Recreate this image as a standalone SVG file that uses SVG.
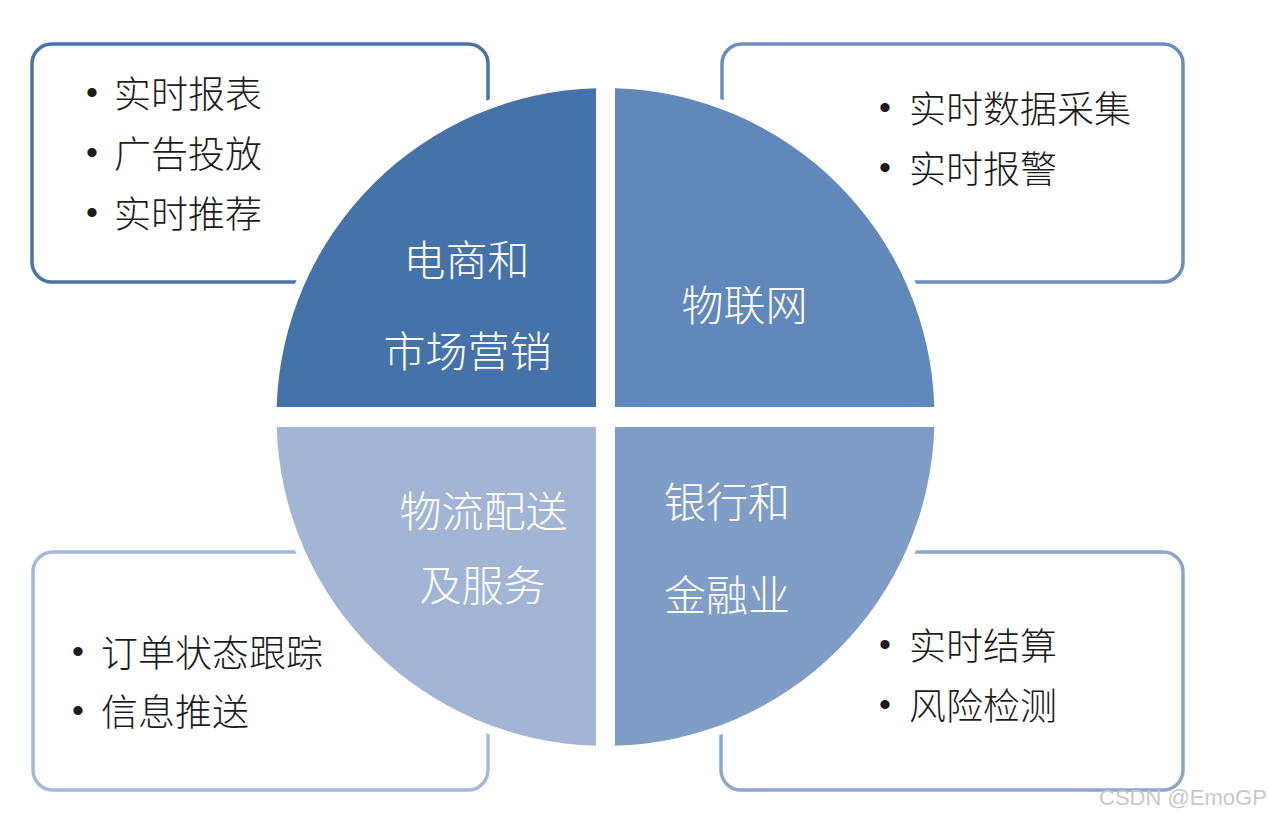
<svg xmlns="http://www.w3.org/2000/svg" width="1269" height="819" viewBox="0 0 1269 819">
  <style>
    .box { fill: #ffffff; stroke-width: 3.5; }
    .item { font-family: "Noto Sans CJK SC", "Liberation Sans", sans-serif; font-size: 37px; font-weight: 300; fill: #1c1c1c; }
    .bullet { font-family: "Liberation Sans", sans-serif; font-size: 34px; fill: #1c1c1c; text-anchor: middle; }
    .label { font-family: "Noto Sans CJK SC", "Liberation Sans", sans-serif; font-size: 42px; font-weight: 300; fill: #ffffff; text-anchor: middle; }
    .wm { font-family: "Liberation Sans", sans-serif; font-size: 22px; fill: #c9c9c9; }
  </style>
  <rect x="0" y="0" width="1269" height="819" fill="#ffffff"/>

  <!-- outer boxes -->
  <g id="box-ecommerce">
    <rect class="box" x="32" y="44" width="456" height="238" rx="20" ry="20" stroke="#4a74a9"/>
    <text class="bullet" x="92" y="104">•</text>
    <text class="item" x="114" y="108">实时报表</text>
    <text class="bullet" x="92" y="164">•</text>
    <text class="item" x="114" y="168">广告投放</text>
    <text class="bullet" x="92" y="224">•</text>
    <text class="item" x="114" y="228">实时推荐</text>
  </g>
  <g id="box-iot">
    <rect class="box" x="722" y="44" width="461" height="238" rx="20" ry="20" stroke="#6a8dbe"/>
    <text class="bullet" x="885" y="119">•</text>
    <text class="item" x="909" y="123">实时数据采集</text>
    <text class="bullet" x="885" y="179">•</text>
    <text class="item" x="909" y="183">实时报警</text>
  </g>
  <g id="box-logistics">
    <rect class="box" x="33" y="552" width="455" height="238" rx="20" ry="20" stroke="#a6b8d7"/>
    <text class="bullet" x="78" y="663">•</text>
    <text class="item" x="101" y="667">订单状态跟踪</text>
    <text class="bullet" x="78" y="722">•</text>
    <text class="item" x="101" y="726">信息推送</text>
  </g>
  <g id="box-finance">
    <rect class="box" x="721" y="552" width="462" height="238" rx="20" ry="20" stroke="#8ea6cd"/>
    <text class="bullet" x="885" y="656">•</text>
    <text class="item" x="909" y="660">实时结算</text>
    <text class="bullet" x="885" y="716">•</text>
    <text class="item" x="909" y="720">风险检测</text>
  </g>

  <!-- white ring separating the circle from the boxes -->
  <circle cx="605.5" cy="417" r="338" fill="#ffffff"/>

  <g id="quadrant-ecommerce">
    <path d="M596,407 L596,88.14 A329,329 0 0,0 276.65,407 Z" fill="#4672aa"/>
    <text class="label" x="466.5" y="276">电商和</text>
    <text class="label" x="467.5" y="367">市场营销</text>
  </g>
  <g id="quadrant-iot">
    <path d="M615,407 L615,88.14 A329,329 0 0,1 934.35,407 Z" fill="#6088bb"/>
    <text class="label" x="744.5" y="321">物联网</text>
  </g>
  <g id="quadrant-logistics">
    <path d="M596,427 L596,745.86 A329,329 0 0,1 276.65,427 Z" fill="#a2b5d5"/>
    <text class="label" x="483.5" y="527">物流配送</text>
    <text class="label" x="482.5" y="601">及服务</text>
  </g>
  <g id="quadrant-finance">
    <path d="M615,427 L615,745.86 A329,329 0 0,0 934.35,427 Z" fill="#809dc7"/>
    <text class="label" x="727" y="518">银行和</text>
    <text class="label" x="727" y="611">金融业</text>
  </g>

  <g id="connectors"></g>

  <text class="wm" x="1099" y="805">CSDN @EmoGP</text>
</svg>
